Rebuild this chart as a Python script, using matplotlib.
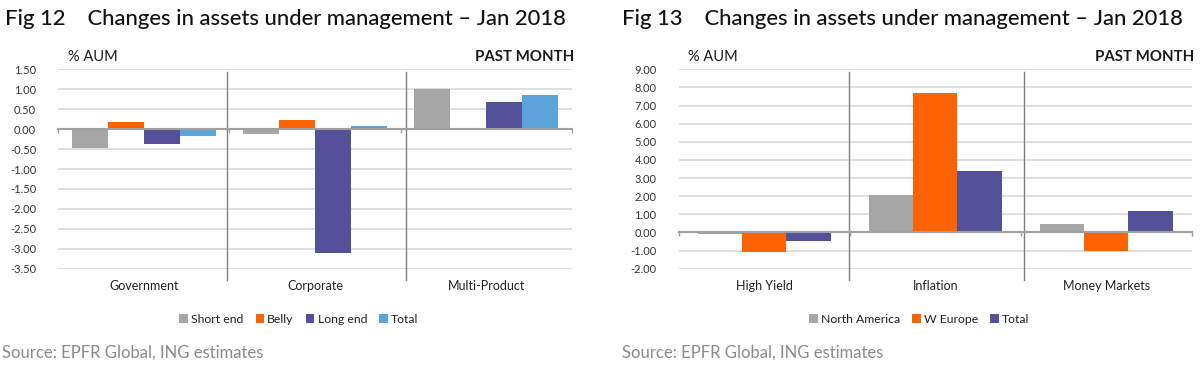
import matplotlib
matplotlib.use("Agg")
import matplotlib.pyplot as plt
import numpy as np
from matplotlib.transforms import blended_transform_factory

# ---- data ----
cats1 = ["Government", "Corporate", "Multi-Product"]
series1 = ["Short end", "Belly", "Long end", "Total"]
short_end = [-0.47, -0.13, 1.00]
belly = [0.18, 0.22, 0.02]
long_end = [-0.38, -3.10, 0.67]
total1 = [-0.18, 0.07, 0.85]
yticks1 = [1.5, 1.0, 0.5, 0.0, -0.5, -1.0, -1.5, -2.0, -2.5, -3.0, -3.5]

cats2 = ["High Yield", "Inflation", "Money Markets"]
series2 = ["North America", "W Europe", "Total"]
north_america = [-0.08, 2.06, 0.44]
w_europe = [-1.10, 7.72, -1.05]
total2 = [-0.48, 3.38, 1.17]
yticks2 = [9, 8, 7, 6, 5, 4, 3, 2, 1, 0, -1, -2]

GRAY = "#A6A6A6"
ORANGE = "#FF6200"
PURPLE = "#525199"
BLUE = "#5BA4DB"
FONT = "Lato"

plt.rcParams['font.family'] = [FONT, 'DejaVu Sans']

fig = plt.figure(figsize=(12, 3.66), dpi=100)


def panel(ax_rect, cats, names, values, colors, yticks, group_frac, seps,
          title, title_x, legend_x, source_x):
    ax = fig.add_axes(ax_rect)
    n = len(names)
    x = np.arange(len(cats))
    bw = group_frac / n
    for i, (nm, vals, c) in enumerate(zip(names, values, colors)):
        off = (i - (n - 1) / 2) * bw
        ax.bar(x + off, vals, width=bw, color=c, label=nm, zorder=3)
    ax.set_xlim(-0.5, len(cats) - 0.5)
    ax.set_ylim(min(yticks), max(yticks))
    ax.set_yticks(yticks)
    ax.set_yticklabels([f"{v:.2f}" for v in yticks], fontsize=8, color="#333333")
    ax.tick_params(axis='y', length=0, pad=16)
    for s in ['top', 'right', 'left']:
        ax.spines[s].set_visible(False)
    ax.spines['bottom'].set_position(('data', 0))
    ax.spines['bottom'].set_color("#A0A0A0")
    ax.spines['bottom'].set_linewidth(1.5)
    ax.spines['bottom'].set_zorder(4)
    ax.set_xticks(np.arange(len(cats) + 1) - 0.5)
    ax.set_xticklabels([])
    ax.tick_params(axis='x', length=3, width=1, color="#A0A0A0", direction='out')
    ax.grid(axis='y', color="#D9D9D9", linewidth=1.2, zorder=0)
    ax.set_axisbelow(True)
    tr = blended_transform_factory(ax.transData, ax.transAxes)
    for sx in seps:
        ax.plot([sx, sx], [0.988, -0.055], transform=tr, color="#808080",
                linewidth=1.0, clip_on=False, zorder=2)
    for xi, c in zip(x, cats):
        ax.text(xi, -0.085, c, transform=tr, ha='center', va='center',
                fontsize=9, color="#222222")
    # header texts
    fig.text(title_x, 0.948, title, fontsize=15.8, color="#111111",
             ha='left', va='center', fontweight='medium')
    pos = ax.get_position()
    fig.text(pos.x0 + 0.008, 0.845, "% AUM", fontsize=10.5, color="#1a1a1a",
             ha='left', va='center')
    fig.text(pos.x1 + 0.002, 0.845, "PAST MONTH", fontsize=10.8, color="#1a1a1a",
             ha='right', va='center', fontweight='bold')
    leg = fig.legend(*ax.get_legend_handles_labels(), loc='center',
                     bbox_to_anchor=(legend_x, 0.128), ncol=n, frameon=False,
                     fontsize=8.8, handlelength=0.7, handleheight=0.7,
                     handletextpad=0.25, columnspacing=1.0)
    for t in leg.get_texts():
        t.set_color("#222222")
    fig.text(source_x, 0.037, "Source: EPFR Global, ING estimates",
             fontsize=12, color="#8a8a8a", ha='left', va='center')
    return ax


panel([0.0486, 0.2658, 0.4278, 0.5448], cats1, series1,
      [short_end, belly, long_end, total1], [GRAY, ORANGE, PURPLE, BLUE],
      yticks1, 0.84, [0.486, 1.529],
      "Fig 12    Changes in assets under management \u2013 Jan 2018",
      0.004, 0.249, 0.002)

panel([0.5656, 0.2658, 0.4275, 0.5448], cats2, series2,
      [north_america, w_europe, total2], [GRAY, ORANGE, PURPLE],
      yticks2, 0.78, [0.495, 1.52],
      "Fig 13    Changes in assets under management \u2013 Jan 2018",
      0.518, 0.766, 0.518)

fig.savefig("out.png", dpi=100)
